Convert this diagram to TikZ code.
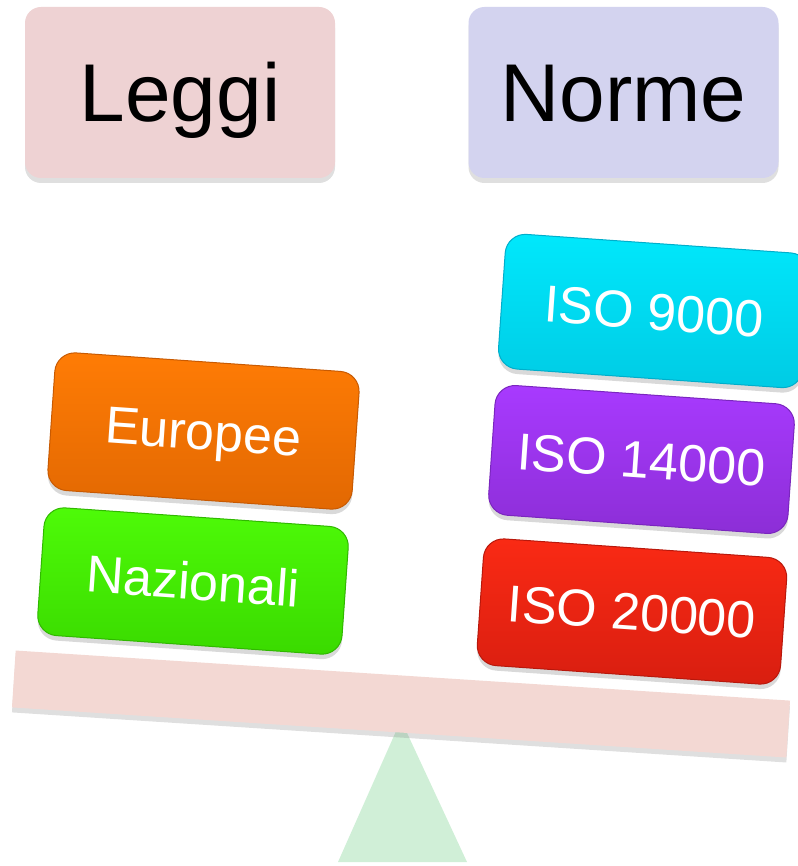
\documentclass[tikz,border=0pt]{standalone}
\usepackage{fontspec}
\setmainfont{Liberation Sans}
\usetikzlibrary{shadows}
\definecolor{leggifill}{HTML}{EED2D3}
\definecolor{normefill}{HTML}{D3D3EF}
\definecolor{orT}{HTML}{FF7C05}\definecolor{orB}{HTML}{E26802}\definecolor{orD}{HTML}{C85A02}
\definecolor{grT}{HTML}{4EFB08}\definecolor{grB}{HTML}{3ADA00}\definecolor{grD}{HTML}{30B800}
\definecolor{cyT}{HTML}{00E8FC}\definecolor{cyB}{HTML}{00CBE4}\definecolor{cyD}{HTML}{00AECB}
\definecolor{puT}{HTML}{A83AFF}\definecolor{puB}{HTML}{8C2ED6}\definecolor{puD}{HTML}{7A26BE}
\definecolor{reT}{HTML}{FA2A14}\definecolor{reB}{HTML}{D81E10}\definecolor{reD}{HTML}{B8180C}
\definecolor{beamfill}{HTML}{F3D8D3}
\definecolor{trifill}{HTML}{D0EFD7}
\tikzset{
  headbox/.style={rounded corners=16pt, minimum width=310pt, minimum height=171pt,
    inner sep=0pt, text height=59pt, text depth=0pt,
    font=\fontsize{82}{92}\selectfont, text=black,
    drop shadow={shadow xshift=0pt, shadow yshift=-5pt, opacity=0.25}},
  block/.style={rounded corners=20pt, minimum width=305pt, minimum height=132pt,
    inner sep=0pt, text height=37pt, text depth=0pt, rotate=-4,
    font=\fontsize{52}{60}\selectfont, text=white, line width=1pt,
    drop shadow={shadow xshift=0pt, shadow yshift=-5pt, opacity=0.3}},
}
\begin{document}
\begin{tikzpicture}[x=1pt,y=-1pt]
\useasboundingbox (0,0) rectangle (797,866);
% heading boxes
\node[headbox, fill=leggifill] (leggi) at (180,92.5) {Leggi};
\node[headbox, fill=normefill] (norme) at (623.5,92.5) {Norme};
% fulcrum and beam
\fill[trifill] (401,720) -- (338,862) -- (467,862) -- cycle;
\node[rotate=-3.7, minimum width=776pt, minimum height=57pt, inner sep=0pt,
  fill=beamfill, drop shadow={shadow xshift=0pt, shadow yshift=-5pt, opacity=0.25}]
  (beam) at (401,704) {};
% left stack
\node[block, minimum height=128pt, top color=grT, bottom color=grB, draw=grD] (naz) at (193,581) {Nazionali};
\node[block, minimum height=138pt, top color=orT, bottom color=orB, draw=orD] (eur) at (203.5,431) {Europee};
% right stack
\node[block, minimum width=304pt, minimum height=127pt, top color=reT, bottom color=reB, draw=reD] (iso20) at (632,611.5) {ISO 20000};
\node[block, minimum width=300pt, minimum height=130pt, top color=puT, bottom color=puB, draw=puD] (iso14) at (641.5,459.5) {ISO 14000};
\node[block, minimum height=135pt, top color=cyT, bottom color=cyB, draw=cyD] (iso9) at (654,311) {ISO 9000};
\end{tikzpicture}
\end{document}
